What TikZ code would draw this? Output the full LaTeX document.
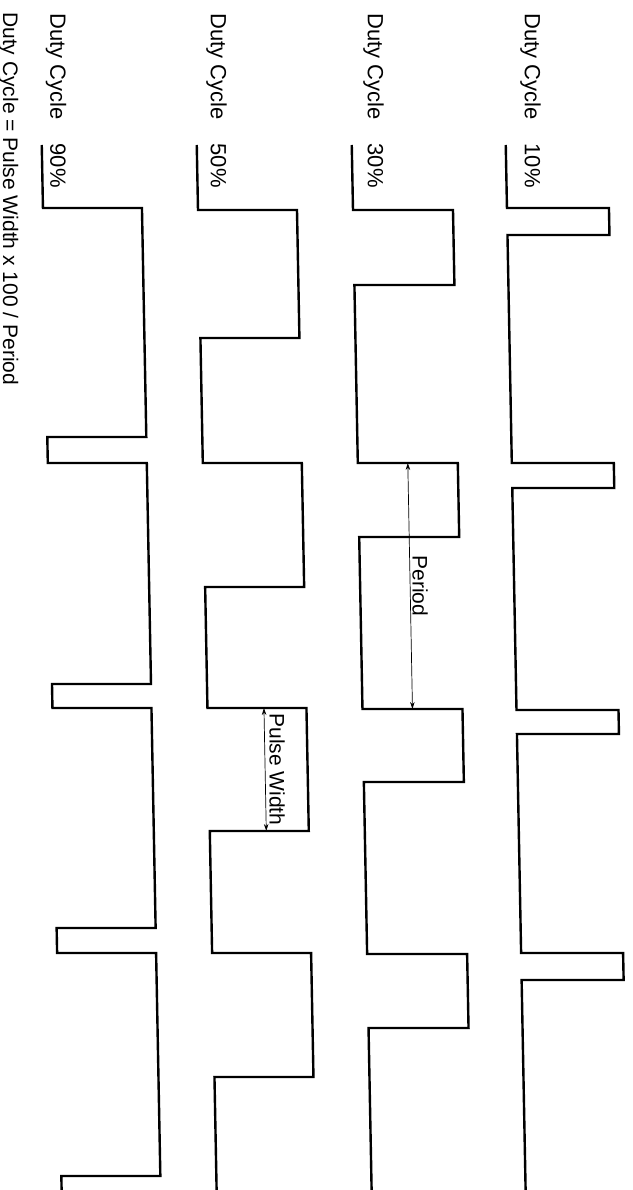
\documentclass[tikz,border=0pt]{standalone}
\usepackage{fontspec}
\setmainfont{Liberation Sans}
\usetikzlibrary{arrows.meta}
\begin{document}
\begin{tikzpicture}[x=1pt,y=-1pt,line join=miter,>={Stealth[length=7pt,width=4.5pt]}]
	\tikzset{wave/.style={line width=2.4pt},
		dim/.style={<->,line width=0.7pt},
		lbl/.style={rotate=-90,inner sep=0pt,font=\fontsize{22}{26}\selectfont},
		note/.style={rotate=-90,font=\fontsize{21}{25}\selectfont}}
	\useasboundingbox (0,0) rectangle (632,1190);
	% duty cycle labels, read from top to bottom
	\node[lbl,anchor=west] (dc10) at (530.5,13) {Duty Cycle\hspace{1.1em}10\%};
	\node[lbl,anchor=west] (dc30) at (373.5,13) {Duty Cycle\hspace{1.1em}30\%};
	\node[lbl,anchor=west] (dc50) at (216.5,13) {Duty Cycle\hspace{1.1em}50\%};
	\node[lbl,anchor=west] (dc90) at (56,13) {Duty Cycle\hspace{1.1em}90\%};
	\node[note,anchor=west,inner sep=0pt] (rule) at (8.5,12) {Duty Cycle = Pulse Width x 100 / Period};
	% the traces (the scan is a little skewed)
	\begin{scope}[xslant=-0.019]
		\draw[wave] (503,145)--(503,208)--(605,208)--(605,235)--(503,235)--(503,463)--(605,463)--(605,488)--(503,488)
			--(503,710)--(605,710)--(605,734)--(503,734)--(503,953)--(605,953)--(605,980)--(503,980)--(503,1190);
		\draw[wave] (349,145)--(349,210)--(449,210)--(449,285)--(349,285)--(349,463)--(449,463)--(449,537)--(349,537)
			--(349,709)--(449,709)--(449,782)--(349,782)--(349,954)--(449,954)--(449,1028)--(349,1028)--(349,1190);
		\draw[wave] (194,145)--(194,210)--(293,210)--(293,338)--(194,338)--(194,463)--(293,463)--(293,587)--(194,587)
			--(194,708)--(293,708)--(293,831)--(194,831)--(194,953)--(293,953)--(293,1077)--(194,1077)--(194,1190);
		\draw[wave] (39,145)--(39,208)--(138,208)--(138,437)--(39,437)--(39,463)--(138,463)--(138,684)--(39,684)
			--(39,708)--(138,708)--(138,928)--(39,928)--(39,953)--(138,953)--(138,1176)--(39,1176)--(39,1190);
		\coordinate (per-a) at (399,463);
		\coordinate (per-b) at (399,709);
		\draw[dim] (per-a) -- node[note,anchor=south,inner sep=2pt] (per) {Period} (per-b);
		\coordinate (pw-a) at (250.5,708);
		\coordinate (pw-b) at (250.5,831);
		\draw[dim] (pw-a) -- node[note,anchor=south,inner sep=4pt] (pw) {Pulse Width} (pw-b);
	\end{scope}
\end{tikzpicture}
\end{document}
